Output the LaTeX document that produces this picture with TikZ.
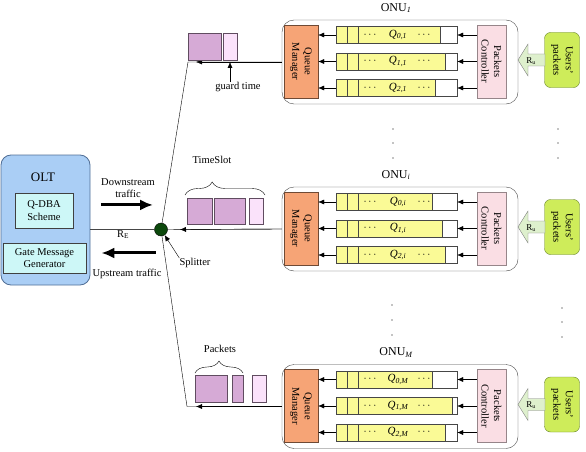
\documentclass[tikz,border=0pt]{standalone}
\usepackage{fontspec}
\setmainfont{Liberation Serif}
\usetikzlibrary{arrows.meta,decorations.pathreplacing}

\definecolor{oltfill}{RGB}{170,206,245}
\definecolor{oltdraw}{RGB}{80,110,150}
\definecolor{schemefill}{RGB}{205,247,247}
\definecolor{qmfill}{RGB}{246,164,118}
\definecolor{qfill}{RGB}{250,250,150}
\definecolor{pcfill}{RGB}{250,222,228}
\definecolor{userfill}{RGB}{206,236,90}
\definecolor{userdraw}{RGB}{100,130,40}
\definecolor{pktfill}{RGB}{214,170,214}
\definecolor{guardfill}{RGB}{250,226,250}
\definecolor{splitfill}{RGB}{12,72,12}
\definecolor{rufill}{RGB}{222,240,205}
\definecolor{linegray}{RGB}{70,70,70}

\tikzset{
  box/.style={draw=linegray, align=center},
  oltbox/.style={box, fill=oltfill, draw=oltdraw, rounded corners=10pt, thick},
  schemebox/.style={box, fill=schemefill, draw=black!75},
  onubox/.style={draw=linegray, rounded corners=12pt},
  qmbox/.style={box, fill=qmfill, draw=black!55!qmfill, rotate=-90},
  pcbox/.style={box, fill=pcfill, draw=black!40!pcfill, rotate=-90},
  userbox/.style={box, fill=userfill, draw=userdraw, rounded corners=6pt, rotate=-90},
  queue/.style={draw=linegray, fill=white, minimum width=121pt, minimum height=17pt},
  pkt/.style={draw=black!55!pktfill, fill=pktfill},
  guard/.style={draw=black!55!pktfill, fill=guardfill},
  rate arrow/.style={draw=gray, fill=rufill},
  bigarrow/.style={line width=3pt, -{Latex[length=13pt,width=11pt]}},
}

\begin{document}
\begin{tikzpicture}[x=1pt, y=-1pt, >={Latex[length=6pt,width=5pt]},
    every node/.style={inner sep=0pt, align=center, font=\fontsize{10.5}{12.5}\selectfont}]
  \useasboundingbox (0,0) rectangle (586,452);

  % OLT side
  \node[oltbox, minimum width=89pt, minimum height=130pt] (olt) at (45.5,220) {};
  \node[font=\fontsize{13}{15}\selectfont] (oltname) at (43,177) {OLT};
  \node[schemebox, minimum width=58pt, minimum height=35pt] (qdba) at (44,210.5) {Q-DBA\\Scheme};
  \node[schemebox, minimum width=83pt, minimum height=30pt] (gate) at (44.5,258) {Gate Message\\Generator};

  \node[circle, draw=black, fill=splitfill, minimum size=13pt] (splitter) at (161,229.5) {};
  \node (splitname) at (195,263) {Splitter};
  \draw[->] (splitname.north west) -- (splitter);

  \node (down) at (128,188) {Downstream\\traffic};
  \node (up) at (127,274) {Upstream traffic};
  \draw[bigarrow] ([yshift=-7pt]down.south west) -- ([yshift=-7pt,xshift=-2pt]down.south east);
  \draw[bigarrow] ([xshift=-6pt,yshift=16pt]up.north east) -- ([xshift=9pt,yshift=16pt]up.north west);
  \draw[linegray] (olt.east |- splitter) -- (splitter);
  \node[anchor=north] (re) at (123,230) {R\textsubscript{E}};

  % the ONUs
  \foreach \n/\dy/\rows in {1/0/{0/440/1,1/445/1,2/435/1},
                            i/167/{0/432/1,1/442/0,2/445/1},
                            M/344.5/{0/432/1,1/452/1,2/445/1}} {
    \begin{scope}[shift={(0,\dy)}]
      \node[onubox, minimum width=236pt, minimum height=84pt] (onu\n) at (400,62) {};
      \node[font=\fontsize{12}{14}\selectfont] (onuname\n) at (396,8) {ONU\textsubscript{\itshape\n}};
      \node[qmbox, minimum width=73pt, minimum height=34pt] (qm\n) at (301,61.5) {Queue\\Manager};
      \node[pcbox, minimum width=73pt, minimum height=29pt] (pc\n) at (491.5,61.5) {Packets\\Controller};
      \node[userbox, minimum width=55pt, minimum height=35pt] (user\n) at (562,60) {Users’\\packets};
      % rate arrow from the users into the ONU
      \draw[rate arrow] (518,60) -- (528,44) -- (528,54) -- (545,54)
        -- (545,66) -- (528,66) -- (528,76) -- cycle;
      \node[font=\fontsize{9}{10}\selectfont] (ru\n) at (531,61) {R\textsubscript{u}};
      \foreach \r/\e/\d in \rows {
        \pgfmathsetmacro\yy{35+26.5*\r}
        \pgfmathsetmacro\yt{\yy-8.5}
        \pgfmathsetmacro\yb{\yy+8.5}
        \node[queue] (q\n\r) at (396.5,\yy) {};
        \draw[linegray, fill=qfill] (336,\yt) rectangle (\e,\yb);
        \draw[linegray] (347,\yt) -- (347,\yb) (358,\yt) -- (358,\yb);
        \node at (370,\yy) {$\cdots$};
        \node[font=\fontsize{11}{12}\selectfont] at (398,\yy) {\itshape Q\textsubscript{\r,\n}};
        \ifnum\d=1 \node at (424,\yy) {$\cdots$}; \fi
        \draw[->] (q\n\r.west) -- (q\n\r.west -| qm\n.north);
        \draw[->] (pc\n.south |- q\n\r.east) -- (q\n\r.east);
      }
    \end{scope}
  }

  % fibres to the splitter
  \coordinate (k1) at (188,62);
  \coordinate (kM) at (187,406.5);
  \draw (onu1.west) -- (k1) -- (splitter);
  \draw[->] (onu1.west) -- ([xshift=8pt]k1);
  \draw (onui.west) -- (splitter);
  \draw[->] (onui.west) -- ([xshift=19pt]splitter.center);
  \draw (onuM.west) -- (kM) -- (splitter);
  \draw[->] (onuM.west) -- ([xshift=9pt]kM);

  % packets on the fibres
  \node[pkt, minimum width=33pt, minimum height=27pt] (g1a) at (204.5,46.5) {};
  \node[guard, minimum width=14pt, minimum height=27pt] (g1b) at (230,46.5) {};
  \node (guardname) at (238,87) {guard time};
  \draw[->] (guardname.north -| g1b) -- (g1b |- k1);

  \node[pkt, minimum width=25pt, minimum height=26pt] (ts1) at (199.5,211) {};
  \node[pkt, minimum width=31pt, minimum height=26pt] (ts2) at (229.5,211) {};
  \node[guard, minimum width=14pt, minimum height=26pt] (ts3) at (256,211) {};
  \draw[decorate, decoration={brace, amplitude=13pt, aspect=0.34}] (185,195) -- (265,195);
  \node (tsname) at (212,160) {TimeSlot};

  \node[pkt, minimum width=32pt, minimum height=27pt] (pm1) at (211,388.5) {};
  \node[pkt, minimum width=11pt, minimum height=27pt] (pm2) at (237.5,388.5) {};
  \node[guard, minimum width=14pt, minimum height=27pt] (pm3) at (259,388.5) {};
  \draw[decorate, decoration={brace, amplitude=12pt}] (195,373) -- (243,373);
  \node (pktname) at (220,349) {Packets};

  % more ONUs
  \foreach \x/\y in {393/129, 393/143, 393/158, 558/129, 558/143, 558/158,
                     392/305, 392/320, 392/335, 562/308, 562/322, 562/337}
    \fill (\x,\y) circle (0.7pt);
\end{tikzpicture}
\end{document}
